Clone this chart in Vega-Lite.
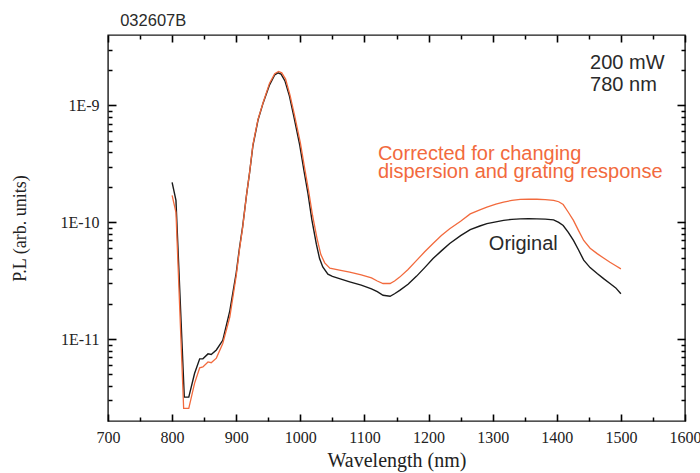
{
  "$schema": "https://vega.github.io/schema/vega-lite/v6.json",
  "autosize": "none",
  "padding": {"left": 108, "top": 35, "right": 15, "bottom": 52},
  "width": 577,
  "height": 386,
  "background": "white",
  "config": {"view": {"stroke": "#1a1a1a", "strokeWidth": 1.4}, "axis": {"grid": false, "domain": false, "minExtent": 0}},
  "datasets": {
    "original": [
      {"wl": 800, "v": 2.2e-10}, {"wl": 806, "v": 1.54e-10}, {"wl": 819, "v": 3.2e-12}, {"wl": 826, "v": 3.2e-12},
      {"wl": 835, "v": 5.1e-12}, {"wl": 843, "v": 6.8e-12}, {"wl": 848, "v": 6.8e-12}, {"wl": 856, "v": 7.5e-12},
      {"wl": 861, "v": 7.4e-12}, {"wl": 869, "v": 8.1e-12}, {"wl": 879, "v": 9.8e-12}, {"wl": 890, "v": 1.75e-11},
      {"wl": 900, "v": 3.7e-11}, {"wl": 905, "v": 6.0e-11}, {"wl": 910, "v": 9.2e-11}, {"wl": 916, "v": 1.7e-10},
      {"wl": 921, "v": 2.7e-10}, {"wl": 926, "v": 4.5e-10}, {"wl": 934, "v": 7.5e-10}, {"wl": 942, "v": 1.05e-9},
      {"wl": 952, "v": 1.5e-9}, {"wl": 960, "v": 1.82e-9}, {"wl": 965, "v": 1.9e-9}, {"wl": 970, "v": 1.85e-9},
      {"wl": 976, "v": 1.62e-9}, {"wl": 983, "v": 1.2e-9}, {"wl": 990, "v": 8.0e-10}, {"wl": 999, "v": 4.6e-10},
      {"wl": 1006, "v": 2.7e-10}, {"wl": 1012, "v": 1.75e-10}, {"wl": 1018, "v": 1.05e-10}, {"wl": 1025, "v": 6.5e-11},
      {"wl": 1030, "v": 4.9e-11}, {"wl": 1035, "v": 4.15e-11}, {"wl": 1043, "v": 3.6e-11}, {"wl": 1050, "v": 3.45e-11},
      {"wl": 1061, "v": 3.3e-11}, {"wl": 1077, "v": 3.1e-11}, {"wl": 1095, "v": 2.9e-11}, {"wl": 1111, "v": 2.7e-11},
      {"wl": 1120, "v": 2.55e-11}, {"wl": 1129, "v": 2.38e-11}, {"wl": 1140, "v": 2.33e-11}, {"wl": 1147, "v": 2.45e-11},
      {"wl": 1155, "v": 2.62e-11}, {"wl": 1168, "v": 2.95e-11}, {"wl": 1181, "v": 3.45e-11}, {"wl": 1194, "v": 4.1e-11},
      {"wl": 1207, "v": 4.9e-11}, {"wl": 1220, "v": 5.7e-11}, {"wl": 1233, "v": 6.6e-11}, {"wl": 1250, "v": 7.7e-11},
      {"wl": 1265, "v": 8.65e-11}, {"wl": 1280, "v": 9.3e-11}, {"wl": 1291, "v": 9.75e-11}, {"wl": 1305, "v": 1.01e-10},
      {"wl": 1317, "v": 1.04e-10}, {"wl": 1330, "v": 1.06e-10}, {"wl": 1343, "v": 1.07e-10}, {"wl": 1356, "v": 1.075e-10},
      {"wl": 1369, "v": 1.07e-10}, {"wl": 1382, "v": 1.065e-10}, {"wl": 1395, "v": 1.05e-10}, {"wl": 1403, "v": 1.0e-10},
      {"wl": 1410, "v": 9.4e-11}, {"wl": 1418, "v": 8.2e-11}, {"wl": 1426, "v": 7.0e-11}, {"wl": 1434, "v": 5.8e-11},
      {"wl": 1442, "v": 4.75e-11}, {"wl": 1452, "v": 4.1e-11}, {"wl": 1463, "v": 3.65e-11}, {"wl": 1473, "v": 3.3e-11},
      {"wl": 1483, "v": 3.0e-11}, {"wl": 1492, "v": 2.75e-11}, {"wl": 1500, "v": 2.45e-11}
    ],
    "corrected": [
      {"wl": 800, "v": 1.7e-10}, {"wl": 806, "v": 1.22e-10}, {"wl": 818, "v": 2.56e-12}, {"wl": 826, "v": 2.56e-12},
      {"wl": 835, "v": 4.2e-12}, {"wl": 843, "v": 5.7e-12}, {"wl": 848, "v": 5.8e-12}, {"wl": 856, "v": 6.4e-12},
      {"wl": 861, "v": 6.3e-12}, {"wl": 869, "v": 6.9e-12}, {"wl": 879, "v": 9.2e-12}, {"wl": 890, "v": 1.55e-11},
      {"wl": 900, "v": 3.5e-11}, {"wl": 905, "v": 5.8e-11}, {"wl": 910, "v": 9.0e-11}, {"wl": 916, "v": 1.7e-10},
      {"wl": 921, "v": 2.7e-10}, {"wl": 926, "v": 4.6e-10}, {"wl": 934, "v": 7.6e-10}, {"wl": 942, "v": 1.06e-9},
      {"wl": 952, "v": 1.55e-9}, {"wl": 960, "v": 1.87e-9}, {"wl": 966, "v": 1.95e-9}, {"wl": 971, "v": 1.9e-9},
      {"wl": 977, "v": 1.68e-9}, {"wl": 984, "v": 1.22e-9}, {"wl": 991, "v": 8.2e-10}, {"wl": 1000, "v": 4.8e-10},
      {"wl": 1007, "v": 2.85e-10}, {"wl": 1013, "v": 1.85e-10}, {"wl": 1019, "v": 1.15e-10}, {"wl": 1026, "v": 7.3e-11},
      {"wl": 1032, "v": 5.3e-11}, {"wl": 1038, "v": 4.5e-11}, {"wl": 1046, "v": 4.05e-11}, {"wl": 1061, "v": 3.9e-11},
      {"wl": 1077, "v": 3.75e-11}, {"wl": 1095, "v": 3.55e-11}, {"wl": 1111, "v": 3.35e-11}, {"wl": 1120, "v": 3.15e-11},
      {"wl": 1129, "v": 3.0e-11}, {"wl": 1140, "v": 3.0e-11}, {"wl": 1147, "v": 3.15e-11}, {"wl": 1155, "v": 3.4e-11},
      {"wl": 1168, "v": 3.95e-11}, {"wl": 1181, "v": 4.7e-11}, {"wl": 1194, "v": 5.6e-11}, {"wl": 1207, "v": 6.6e-11},
      {"wl": 1220, "v": 7.7e-11}, {"wl": 1233, "v": 8.8e-11}, {"wl": 1250, "v": 1.02e-10}, {"wl": 1265, "v": 1.18e-10},
      {"wl": 1280, "v": 1.28e-10}, {"wl": 1291, "v": 1.35e-10}, {"wl": 1305, "v": 1.43e-10}, {"wl": 1317, "v": 1.49e-10},
      {"wl": 1330, "v": 1.54e-10}, {"wl": 1343, "v": 1.57e-10}, {"wl": 1356, "v": 1.58e-10}, {"wl": 1369, "v": 1.575e-10},
      {"wl": 1382, "v": 1.565e-10}, {"wl": 1395, "v": 1.54e-10}, {"wl": 1403, "v": 1.5e-10}, {"wl": 1410, "v": 1.42e-10},
      {"wl": 1418, "v": 1.22e-10}, {"wl": 1426, "v": 1.04e-10}, {"wl": 1434, "v": 8.5e-11}, {"wl": 1442, "v": 7.0e-11},
      {"wl": 1452, "v": 6.0e-11}, {"wl": 1463, "v": 5.4e-11}, {"wl": 1473, "v": 4.95e-11}, {"wl": 1483, "v": 4.55e-11},
      {"wl": 1492, "v": 4.25e-11}, {"wl": 1500, "v": 4.0e-11}
    ],
    "notesOrange": [
      {"wl": 1121, "v": 3.39e-10, "label": "Corrected for changing"},
      {"wl": 1121, "v": 2.38e-10, "label": "dispersion and grating response"}
    ],
    "notesPower": [
      {"wl": 1452, "v": 2.03e-9, "label": "200 mW"},
      {"wl": 1452, "v": 1.34e-9, "label": "780 nm"}
    ],
    "notesOriginal": [
      {"wl": 1294, "v": 5.77e-11, "label": "Original"}
    ],
    "sample": [
      {"wl": 719, "v": 4.75e-9, "label": "032607B"}
    ]
  },
  "resolve": {"axis": {"x": "independent", "y": "independent"}},
  "layer": [
    {
      "data": {"name": "original"},
      "mark": {"type": "line", "color": "#1a1a1a", "strokeWidth": 1.4},
      "encoding": {
        "x": {"field": "wl", "type": "quantitative", "scale": {"domain": [700, 1600], "nice": false, "zero": false},
          "axis": {"orient": "bottom", "offset": -7, "tickSize": 7, "tickColor": "black", "tickWidth": 1.6, "values": [700, 800, 900, 1000, 1100, 1200, 1300, 1400, 1500, 1600], "format": "d", "labelFont": "Liberation Serif", "labelFontSize": 16, "labelColor": "#222", "labelPadding": 8, "labelFlush": false, "labelOverlap": false, "title": "Wavelength (nm)", "titleFont": "Liberation Serif", "titleFontSize": 20, "titleFontWeight": "normal", "titleColor": "#222", "titlePadding": 5}},
        "y": {"field": "v", "type": "quantitative", "scale": {"type": "log", "domain": [2e-12, 4e-9], "nice": false},
          "axis": {"orient": "left", "offset": -8, "tickSize": 8, "tickColor": "black", "tickWidth": 1.6, "values": [1e-11, 1e-10, 1e-9], "labelExpr": "'1E' + round(log(datum.value)/LN10)", "labelFont": "Liberation Serif", "labelFontSize": 16, "labelColor": "#222", "labelPadding": 9, "labelOverlap": false, "title": "P.L (arb. units)", "titleFont": "Liberation Serif", "titleFontSize": 18, "titleFontWeight": "normal", "titleColor": "#222", "titlePadding": 30}}
      }
    },
    {
      "data": {"name": "corrected"},
      "mark": {"type": "line", "color": "#f26a3d", "strokeWidth": 1.3},
      "encoding": {
        "x": {"field": "wl", "type": "quantitative", "scale": {"domain": [700, 1600], "nice": false, "zero": false},
          "axis": {"orient": "bottom", "offset": -4, "values": [750, 850, 950, 1050, 1150, 1250, 1350, 1450, 1550], "tickSize": 4, "tickColor": "black", "tickWidth": 1.5, "labels": false, "title": null}},
        "y": {"field": "v", "type": "quantitative", "scale": {"type": "log", "domain": [2e-12, 4e-9], "nice": false},
          "axis": {"orient": "left", "offset": -4, "values": [3e-12, 4e-12, 5e-12, 6e-12, 7e-12, 8e-12, 9e-12, 2e-11, 3e-11, 4e-11, 5e-11, 6e-11, 7e-11, 8e-11, 9e-11, 2e-10, 3e-10, 4e-10, 5e-10, 6e-10, 7e-10, 8e-10, 9e-10, 2e-9, 3e-9], "tickSize": 4, "tickColor": "black", "tickWidth": 1.5, "labels": false, "title": null}}
      }
    },
    {
      "data": {"name": "notesOrange"},
      "mark": {"type": "text", "align": "left", "baseline": "alphabetic", "font": "Liberation Sans", "fontSize": 20, "color": "#f26a3d"},
      "encoding": {
        "text": {"field": "label"},
        "x": {"field": "wl", "type": "quantitative", "scale": {"domain": [700, 1600], "nice": false, "zero": false},
          "axis": {"orient": "top", "offset": -7, "values": [700, 800, 900, 1000, 1100, 1200, 1300, 1400, 1500, 1600], "tickSize": 7, "tickColor": "black", "tickWidth": 1.6, "labels": false, "title": null}},
        "y": {"field": "v", "type": "quantitative", "scale": {"type": "log", "domain": [2e-12, 4e-9], "nice": false},
          "axis": {"orient": "right", "offset": -8, "values": [1e-11, 1e-10, 1e-9], "tickSize": 8, "tickColor": "black", "tickWidth": 1.6, "labels": false, "title": null}}
      }
    },
    {
      "data": {"name": "notesPower"},
      "mark": {"type": "text", "align": "left", "baseline": "alphabetic", "font": "Liberation Sans", "fontSize": 20, "color": "#2a2a2a"},
      "encoding": {
        "text": {"field": "label"},
        "x": {"field": "wl", "type": "quantitative", "scale": {"domain": [700, 1600], "nice": false, "zero": false},
          "axis": {"orient": "top", "offset": -4, "values": [750, 850, 950, 1050, 1150, 1250, 1350, 1450, 1550], "tickSize": 4, "tickColor": "black", "tickWidth": 1.5, "labels": false, "title": null}},
        "y": {"field": "v", "type": "quantitative", "scale": {"type": "log", "domain": [2e-12, 4e-9], "nice": false},
          "axis": {"orient": "right", "offset": -4, "values": [3e-12, 4e-12, 5e-12, 6e-12, 7e-12, 8e-12, 9e-12, 2e-11, 3e-11, 4e-11, 5e-11, 6e-11, 7e-11, 8e-11, 9e-11, 2e-10, 3e-10, 4e-10, 5e-10, 6e-10, 7e-10, 8e-10, 9e-10, 2e-9, 3e-9], "tickSize": 4, "tickColor": "black", "tickWidth": 1.5, "labels": false, "title": null}}
      }
    },
    {
      "data": {"name": "notesOriginal"},
      "mark": {"type": "text", "align": "left", "baseline": "alphabetic", "font": "Liberation Sans", "fontSize": 20, "color": "#2a2a2a"},
      "encoding": {
        "text": {"field": "label"},
        "x": {"field": "wl", "type": "quantitative", "scale": {"domain": [700, 1600], "nice": false, "zero": false}, "axis": null},
        "y": {"field": "v", "type": "quantitative", "scale": {"type": "log", "domain": [2e-12, 4e-9], "nice": false}, "axis": null}
      }
    },
    {
      "data": {"name": "sample"},
      "mark": {"type": "text", "align": "left", "baseline": "alphabetic", "font": "Liberation Sans", "fontSize": 16.5, "color": "#2a2a2a", "clip": false},
      "encoding": {
        "text": {"field": "label"},
        "x": {"field": "wl", "type": "quantitative", "scale": {"domain": [700, 1600], "nice": false, "zero": false}, "axis": null},
        "y": {"field": "v", "type": "quantitative", "scale": {"type": "log", "domain": [2e-12, 4e-9], "nice": false}, "axis": null}
      }
    }
  ]
}
